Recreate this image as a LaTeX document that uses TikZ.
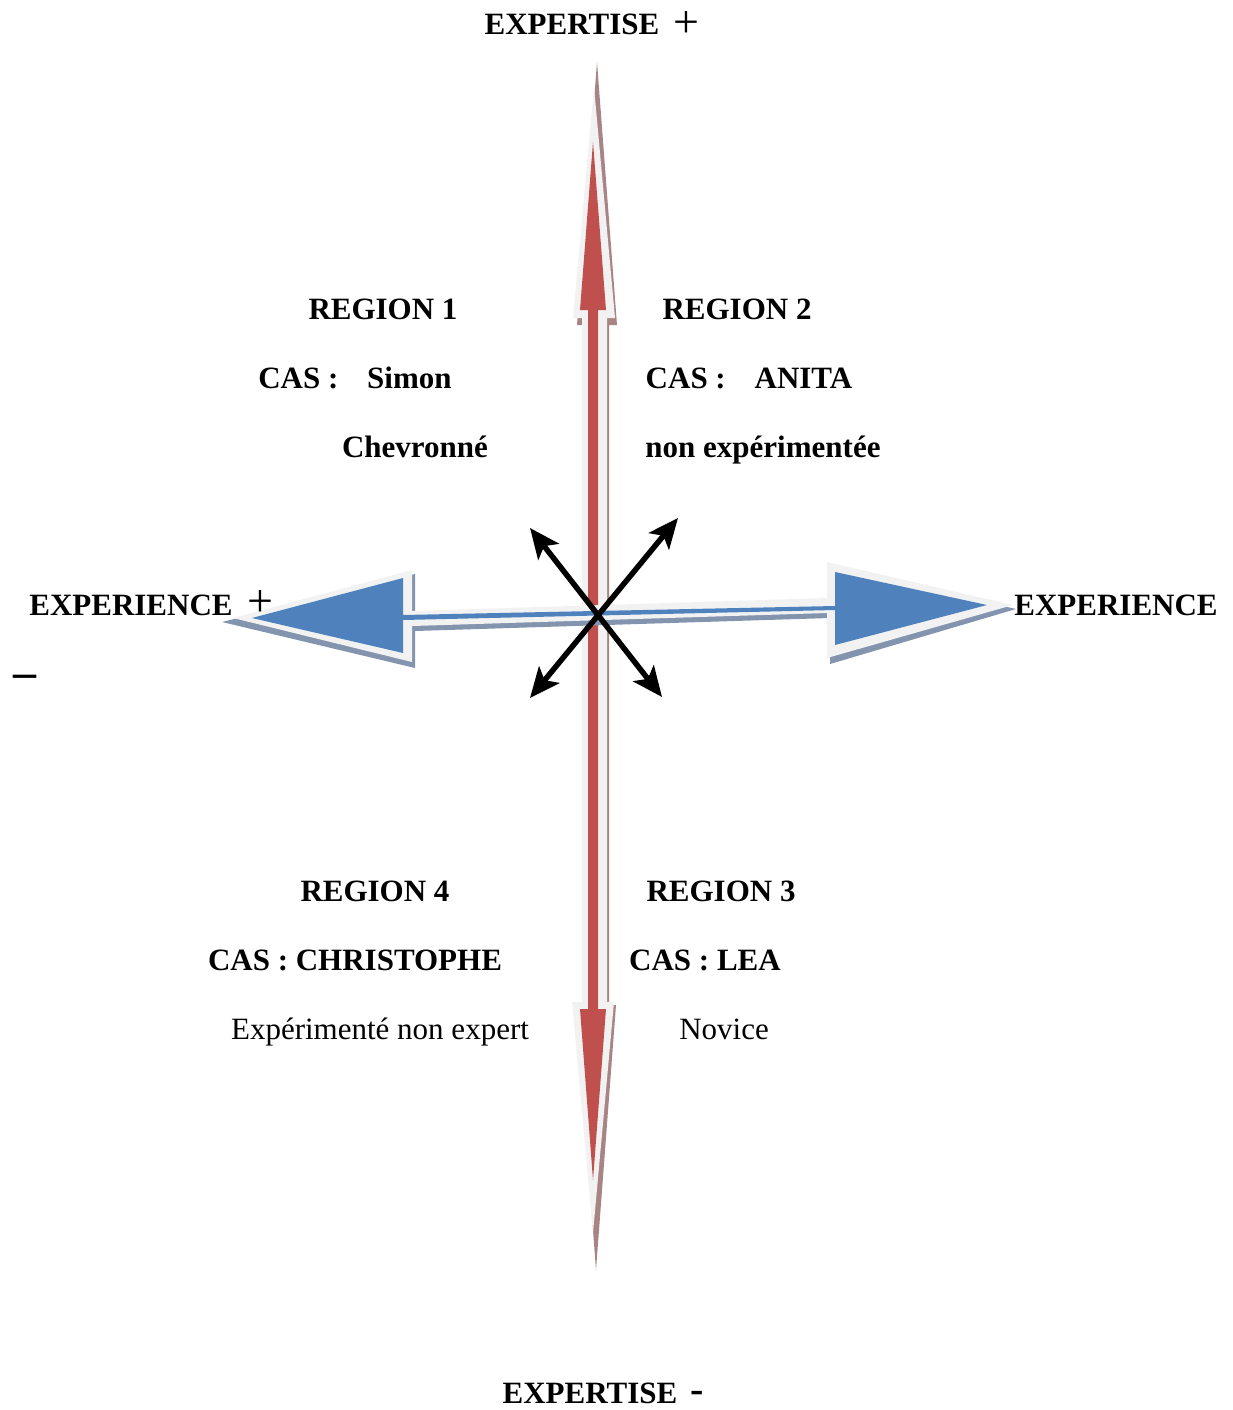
\documentclass[tikz,border=0pt]{standalone}
\usepackage{fontspec}
\setmainfont{Liberation Serif}
\usetikzlibrary{arrows.meta,positioning}
\definecolor{axisred}{HTML}{C0504D}
\definecolor{axisblue}{HTML}{4F81BD}
\definecolor{rim}{HTML}{F2F2F2}
\definecolor{redshade}{HTML}{A88484}
\definecolor{blueshade}{HTML}{8394AE}
\tikzset{
  txtb/.style={font=\fontsize{31}{37}\selectfont\bfseries, inner sep=0pt, text height=0.66em, text depth=0pt, yshift=-7pt},
  txtr/.style={font=\fontsize{31}{37}\selectfont, inner sep=0pt, text height=0.66em, text depth=0pt, yshift=-7pt},
  sign/.style={font=\fontsize{46}{46}\selectfont, inner sep=0pt, yshift=-4pt},
  cross/.style={line width=5.5pt, {Stealth[length=30pt,width=26pt,inset=7pt]}-{Stealth[length=30pt,width=26pt,inset=7pt]}}
}
\begin{document}
\begin{tikzpicture}[x=1pt,y=-1pt,node distance=62pt]
\useasboundingbox (0,0) rectangle (1233,1410);
% vertical axis (expertise)
\fill[redshade] (597,62) -- (617,325) -- (609,325) -- (609,1005) -- (616,1005) -- (596,1270)
  -- (576,1005) -- (584,1005) -- (584,325) -- (577,325) -- cycle;
\fill[rim] (594,87) -- (615,318) -- (607,318) -- (607,1002) -- (614,1002) -- (593,1233)
  -- (572,1002) -- (582,1002) -- (582,318) -- (573,318) -- cycle;
\fill[axisred] (593,142) -- (606,310) -- (598,310) -- (598,1009) -- (606,1009) -- (593,1180)
  -- (580,1009) -- (588,1009) -- (588,310) -- (580,310) -- cycle;
% horizontal axis (experience)
\fill[blueshade] (222,622) -- (415,574) -- (415,617) -- (830,604) -- (830,566) -- (1016,609)
  -- (830,664) -- (830,618) -- (415,631) -- (415,668) -- cycle;
\fill[rim] (233,618) -- (412,570) -- (412,611) -- (827,598) -- (827,562) -- (1013,605)
  -- (827,658) -- (827,613) -- (412,626) -- (412,662) -- cycle;
\fill[axisblue] (252,618) -- (403,578) -- (403,615) -- (835,606) -- (835,572) -- (987,605)
  -- (835,645) -- (835,610) -- (403,620) -- (403,653) -- cycle;

% Define the nodes
\coordinate (ul) at (530,528);
\coordinate (ur) at (678,518);
\coordinate (ll) at (530,698);
\coordinate (lr) at (662,697);

\node[txtb] (exptop) at (572,24) {EXPERTISE};
\node[sign] (plustop) at (686,21) {+};
\node[txtb] (expbot) at (590,1393) {EXPERTISE};
\node[font=\fontsize{40}{40}\selectfont\bfseries, inner sep=0pt] (minbot) at (697,1397) {-};
\node[txtb] (expleft) at (131,605) {EXPERIENCE};
\node[sign] (plusleft) at (260,599) {+};
\node[txtb, font=\fontsize{46}{46}\selectfont\bfseries, text height=0.3em] (minleft) at (25,679) {–};
\node[txtb] (expright) at (1116,605) {EXPERIENCE};

\node[txtb] (reg1) at (383,309) {REGION 1};
\node[txtb, below of=reg1, xshift=-28pt] (cas1) {CAS :\hspace{0.93em}Simon};
\node[txtb, below of=cas1, xshift=60pt] (who1) {Chevronné};

\node[txtb] (reg2) at (737,309) {REGION 2};
\node[txtb, below of=reg2, xshift=12pt] (cas2) {CAS :\hspace{0.93em}ANITA};
\node[txtb, below of=cas2, xshift=14pt] (who2) {non expérimentée};

\node[txtb] (reg4) at (375,891) {REGION 4};
\node[txtb, below of=reg4, xshift=-20pt] (cas4) {CAS : CHRISTOPHE};
\node[txtr, below of=cas4, xshift=25pt] (who4) {Expérimenté non expert};

\node[txtb] (reg3) at (721,891) {REGION 3};
\node[txtb, below of=reg3, xshift=-16pt] (cas3) {CAS : LEA};
\node[txtr, below of=cas3, xshift=19pt] (who3) {Novice};

% Connect the nodes
\draw[cross] (ul) -- (lr);
\draw[cross] (ll) -- (ur);
\end{tikzpicture}
\end{document}
